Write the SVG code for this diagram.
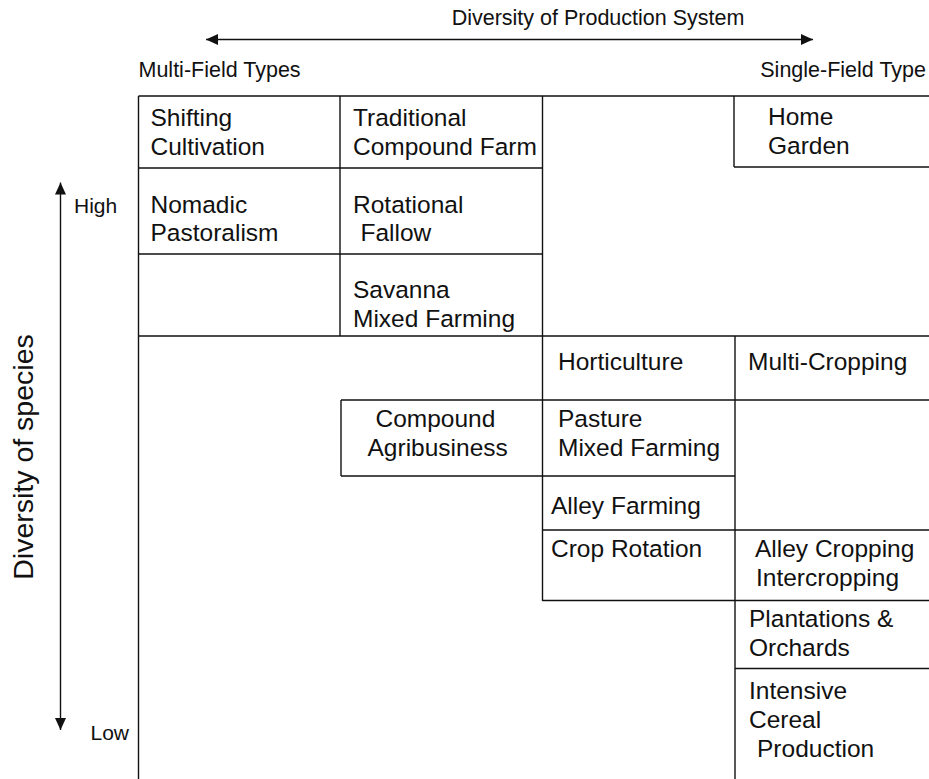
<svg xmlns="http://www.w3.org/2000/svg" width="929" height="779" viewBox="0 0 929 779">
<style>
  text { font-family: "Liberation Sans", Arial, sans-serif; fill: #111; }
  .cell { font-size: 24.5px; }
  .hdr { font-size: 21.5px; }
  .axis { font-size: 21px; }
  .grid line { stroke: #111; stroke-width: 1.4; fill: none; }
  .conn line { stroke: #111; stroke-width: 1.4; fill: none; }
</style>
<defs>
  <marker id="ah" markerUnits="userSpaceOnUse" markerWidth="12" markerHeight="12" viewBox="0 0 12 12" refX="12" refY="6" orient="auto-start-reverse">
    <path d="M0,0.5 L12,6 L0,11.5 z" fill="#111"/>
  </marker>
</defs>
<rect width="929" height="779" fill="#fff"/>

<g id="connectors" class="conn">
  <line x1="206" y1="39.5" x2="813" y2="39.5" marker-start="url(#ah)" marker-end="url(#ah)"/>
  <line x1="60.5" y1="182.5" x2="60.5" y2="730" marker-start="url(#ah)" marker-end="url(#ah)"/>
</g>

<g id="labels">
  <text class="hdr" x="598" y="25" text-anchor="middle">Diversity of Production System</text>
  <text class="hdr" x="138.5" y="77">Multi-Field Types</text>
  <text class="hdr" x="926" y="77" text-anchor="end">Single-Field Type</text>
  <text class="axis" x="74" y="213">High</text>
  <text class="axis" x="90.5" y="740">Low</text>
  <text x="33" y="457" font-size="28.5" text-anchor="middle" transform="rotate(-90 33 457)">Diversity of species</text>
</g>

<g id="grid" class="grid">
  <line x1="138.5" y1="96" x2="138.5" y2="779"/>
  <line x1="138.5" y1="96" x2="929" y2="96"/>
  <line x1="340" y1="96" x2="340" y2="336"/>
  <line x1="542.5" y1="96" x2="542.5" y2="601"/>
  <line x1="138.5" y1="168" x2="542.5" y2="168"/>
  <line x1="138.5" y1="254" x2="542.5" y2="254"/>
  <line x1="138.5" y1="336" x2="929" y2="336"/>
  <line x1="734" y1="96" x2="734" y2="167"/>
  <line x1="734" y1="167" x2="929" y2="167"/>
  <line x1="735" y1="336" x2="735" y2="779"/>
  <line x1="341" y1="400" x2="929" y2="400"/>
  <line x1="341" y1="400" x2="341" y2="476"/>
  <line x1="341" y1="476" x2="735" y2="476"/>
  <line x1="542.5" y1="530" x2="929" y2="530"/>
  <line x1="542.5" y1="600.5" x2="929" y2="600.5"/>
  <line x1="735" y1="668.5" x2="929" y2="668.5"/>
</g>

<g id="shifting-cultivation"><text class="cell" x="150.5" y="126">Shifting</text><text class="cell" x="150.5" y="154.5">Cultivation</text></g>
<g id="traditional-compound-farm"><text class="cell" x="353" y="126">Traditional</text><text class="cell" x="353" y="154.5">Compound Farm</text></g>
<g id="home-garden"><text class="cell" x="768" y="125">Home</text><text class="cell" x="768" y="153.5">Garden</text></g>
<g id="nomadic-pastoralism"><text class="cell" x="150.5" y="212.5">Nomadic</text><text class="cell" x="150.5" y="241">Pastoralism</text></g>
<g id="rotational-fallow"><text class="cell" x="353" y="212.5">Rotational</text><text class="cell" x="360.5" y="241">Fallow</text></g>
<g id="savanna-mixed-farming"><text class="cell" x="353" y="298">Savanna</text><text class="cell" x="353" y="326.5">Mixed Farming</text></g>
<g id="horticulture"><text class="cell" x="558" y="370">Horticulture</text></g>
<g id="multi-cropping"><text class="cell" x="748" y="370">Multi-Cropping</text></g>
<g id="compound-agribusiness"><text class="cell" x="375.5" y="427">Compound</text><text class="cell" x="367.5" y="455.5">Agribusiness</text></g>
<g id="pasture-mixed-farming"><text class="cell" x="558" y="427">Pasture</text><text class="cell" x="558" y="455.5">Mixed Farming</text></g>
<g id="alley-farming"><text class="cell" x="551" y="513.5">Alley Farming</text></g>
<g id="crop-rotation"><text class="cell" x="551" y="557">Crop Rotation</text></g>
<g id="alley-cropping-intercropping"><text class="cell" x="755" y="557">Alley Cropping</text><text class="cell" x="756" y="585.5">Intercropping</text></g>
<g id="plantations-orchards"><text class="cell" x="749" y="627">Plantations &amp;</text><text class="cell" x="749" y="655.5">Orchards</text></g>
<g id="intensive-cereal-production"><text class="cell" x="749" y="698.5">Intensive</text><text class="cell" x="749" y="727.5">Cereal</text><text class="cell" x="757" y="757">Production</text></g>
</svg>
